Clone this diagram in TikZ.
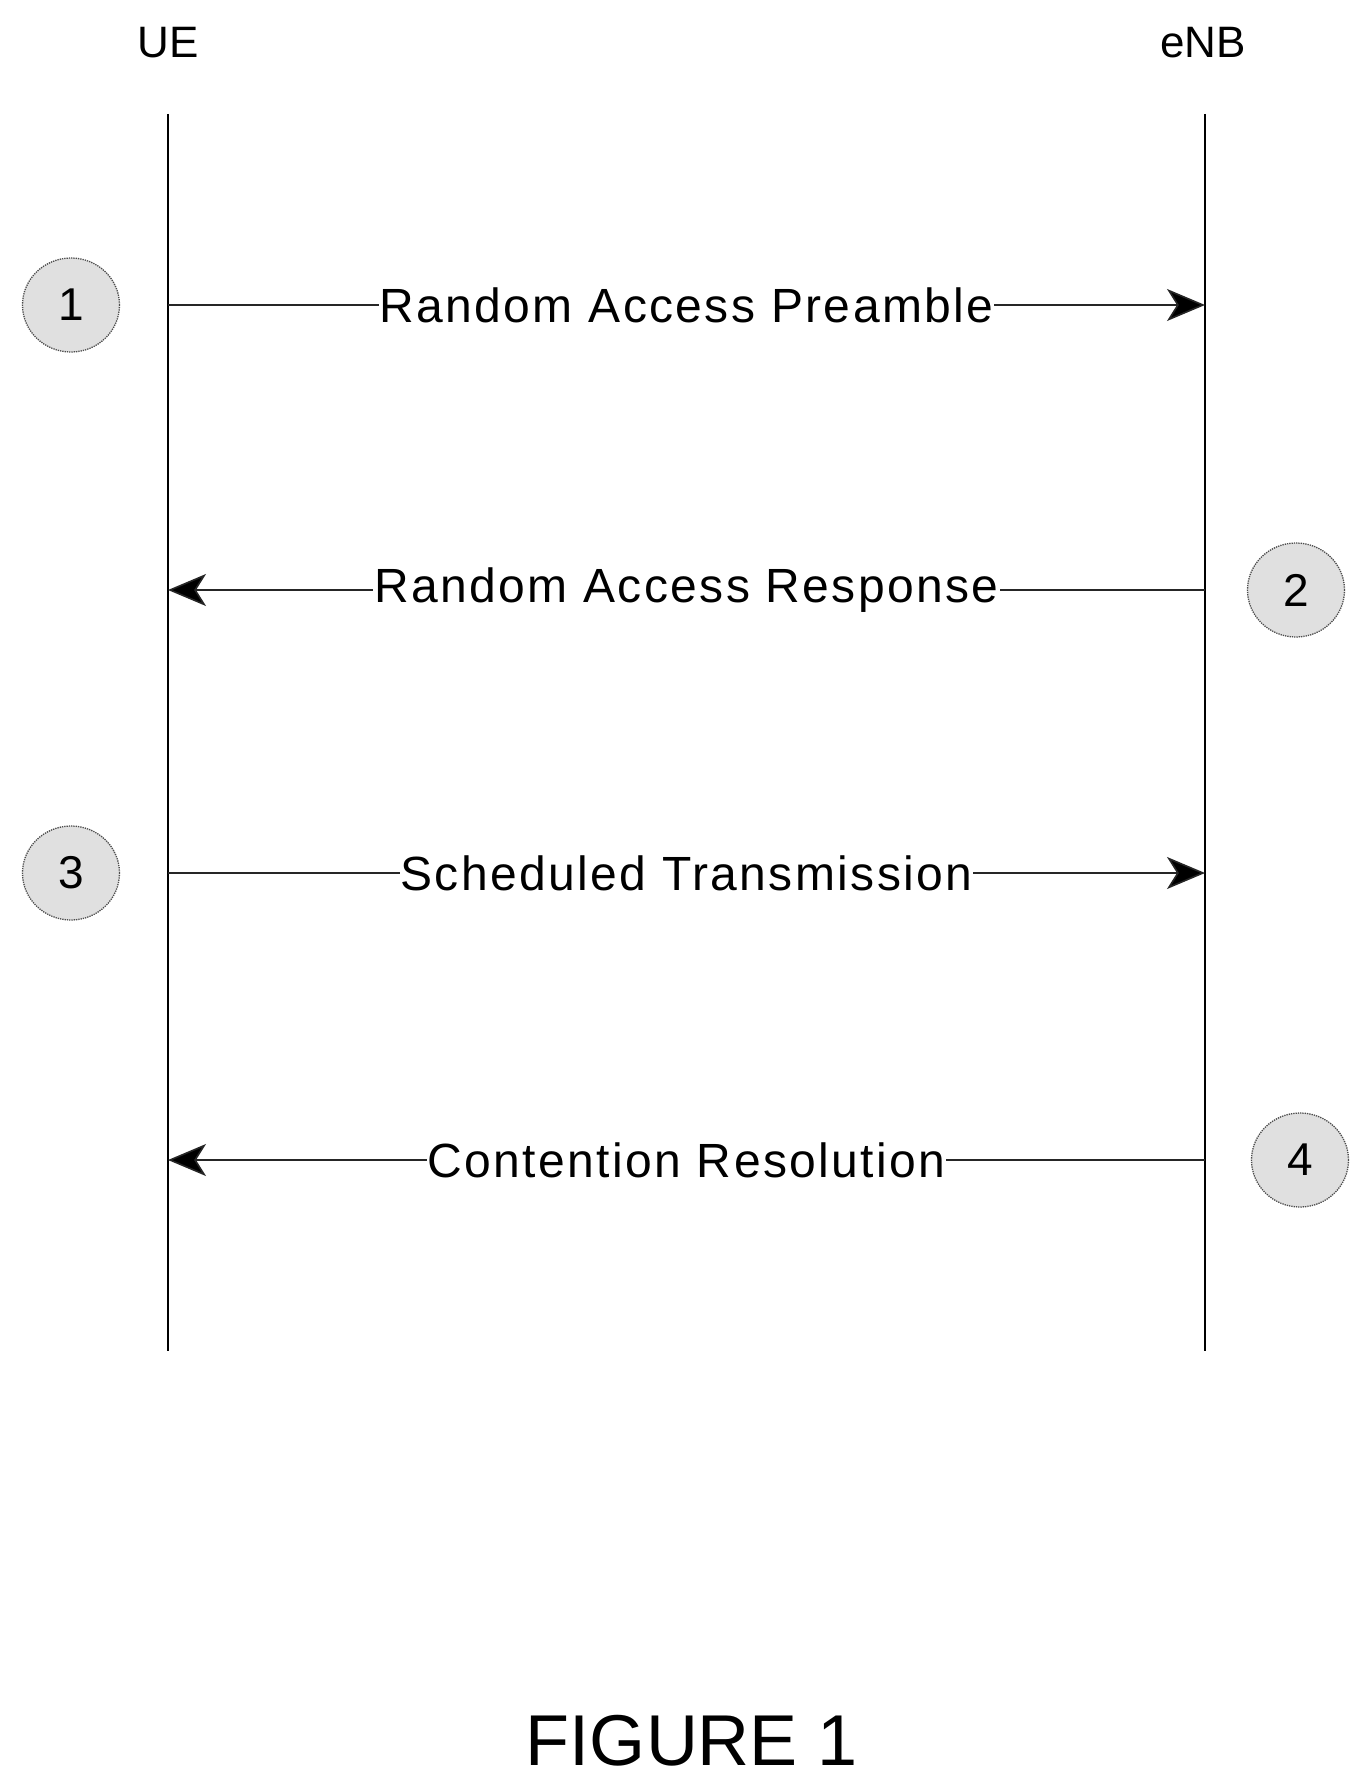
\documentclass[tikz,border=0pt]{standalone}
\usepackage{fontspec}
\setmainfont{Liberation Sans}
\usetikzlibrary{arrows.meta,shapes.geometric}
\begin{document}
\begin{tikzpicture}[x=1pt,y=-1pt,
  life/.style={line width=2.2pt,black},
  msg/.style={line width=1.6pt,black!85,-{Triangle[length=38pt,width=32pt,inset=10pt,fill=black]}},
  lbl/.style={fill=white,text=black,inner sep=1pt,font=\fontsize{48}{50}\selectfont\addfontfeature{LetterSpace=5}},
  stepc/.style={ellipse,draw=black!70,densely dotted,line width=1.3pt,fill=black!12,minimum width=97pt,minimum height=94pt,inner sep=0pt,font=\fontsize{46}{48}\selectfont},
  hdr/.style={font=\fontsize{44}{46}\selectfont}]
\useasboundingbox (0,0) rectangle (1368,1782);
\node[hdr] (ue) at (168,43) {UE};
\node[hdr] (enb) at (1203,43) {eNB};
\coordinate (ueT) at (168,114); \coordinate (ueB) at (168,1351);
\coordinate (enT) at (1205,114); \coordinate (enB) at (1205,1351);
\draw[life] (ueT) -- (ueB);
\draw[life] (enT) -- (enB);
\coordinate (u1) at (168,305); \coordinate (e1) at (1205,305);
\coordinate (u2) at (168,590); \coordinate (e2) at (1205,590);
\coordinate (u3) at (168,873); \coordinate (e3) at (1205,873);
\coordinate (u4) at (168,1160); \coordinate (e4) at (1205,1160);
\draw[msg] (u1) -- node[lbl] (m1) {Random Access Preamble} (e1);
\draw[msg] (e2) -- node[lbl] (m2) {Random Access Response} (u2);
\draw[msg] (u3) -- node[lbl] (m3) {Scheduled Transmission} (e3);
\draw[msg] (e4) -- node[lbl] (m4) {Contention Resolution} (u4);
\node[stepc] (s1) at (71,305) {1};
\node[stepc] (s2) at (1296,590) {2};
\node[stepc] (s3) at (71,873) {3};
\node[stepc] (s4) at (1300,1160) {4};
\node[font=\fontsize{72}{74}\selectfont] (fig) at (692,1741) {FIGURE 1};
\end{tikzpicture}
\end{document}
